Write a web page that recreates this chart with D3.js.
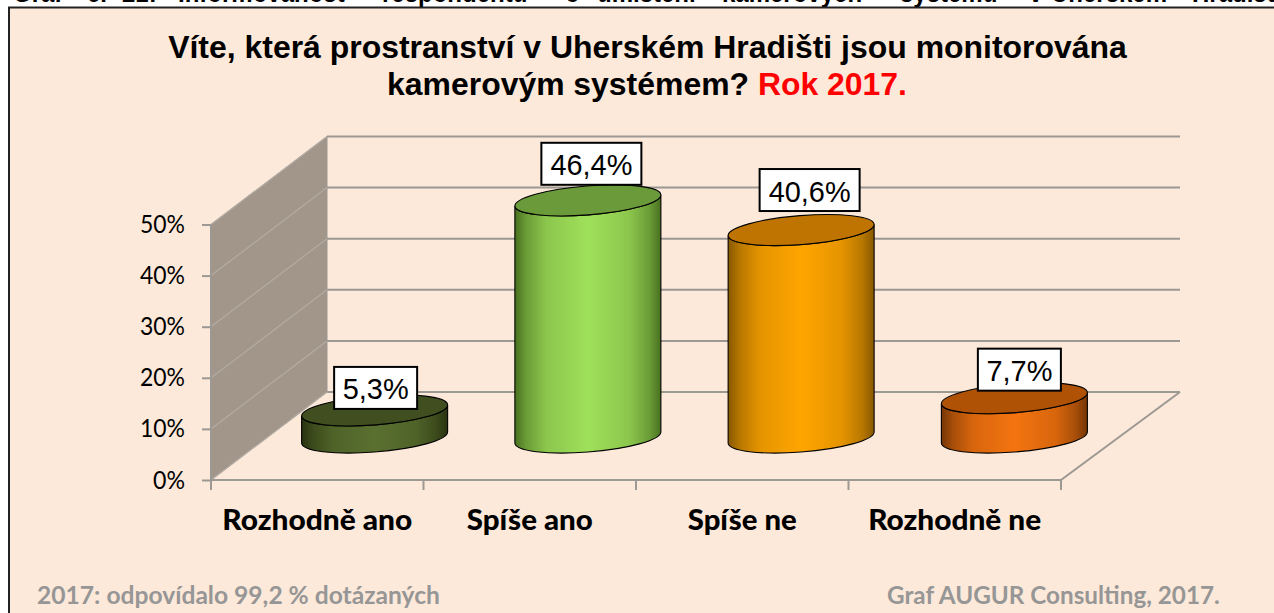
<!DOCTYPE html>
<html><head><meta charset="utf-8">
<style>html,body{margin:0;padding:0;background:#fff;overflow:hidden}svg{display:block}</style>
<script src="https://cdn.jsdelivr.net/npm/d3@7"></script></head>
<body><svg id="c" width="1274" height="613"></svg>
<script>
const categories = ["Rozhodně ano","Spíše ano","Spíše ne","Rozhodně ne"];
const values = [5.3,46.4,40.6,7.7];
const valueLabels = ["5,3%","46,4%","40,6%","7,7%"];
const yTicks = [0,10,20,30,40,50];
const headerWords = ["Graf","č.","21:","Informovanost","respondentů","o","umístění","kamerových","systémů","v","Uherském","Hradišti"];
const titleLine1 = "Víte, která prostranství v Uherském Hradišti jsou monitorována";
const titleLine2 = "kamerovým systémem? ";
const titleRed = "Rok 2017.";
const noteLeft = "2017: odpovídalo 99,2 % dotázaných";
const noteRight = "Graf AUGUR Consulting, 2017.";
const sideColors = [["#28330f","#5a7030"],["#48701f","#9fe05a"],["#875800","#ffa500"],["#743504","#f47410"]];
const topColors = ["#414f20","#6b9a3a","#bf7300","#b05206"];

const svg = d3.select("#c");
const ARIAL="'Liberation Sans',Arial,sans-serif", CAL="Lato,Carlito,Calibri,sans-serif";
const depthX=116, depthY=88;
const xs = d3.scaleBand().domain(categories).range([211,1061]);
const xc = d3.scaleBand().domain(categories).range([211,1064]); // cylinders sit on a slightly wider step
const ys = d3.scaleLinear().domain([0,50]).range([480,224.5]);
const GRID="#9c9893";

// squeeze a text horizontally so that it takes the width measured on the reference
function fit(sel, anchorX, baseY, width, anchor){
  const len = sel.node().getComputedTextLength();
  const k = width/len;
  sel.attr("text-anchor",anchor||"start").attr("transform",`translate(${anchorX},${baseY}) scale(${k},1)`);
  return sel;
}

// page frame + clipped caption above it
const headerX=[13,87,122,178,382,565,597,722,900,1029,1051,1192];
svg.selectAll("text.h").data(headerWords).join("text").attr("class","h")
  .attr("font-family",ARIAL).attr("font-weight","bold").attr("font-size",30).attr("fill","#000")
  .text(d=>d).attr("transform",(d,i)=>`translate(${headerX[i]},2) scale(.8,1)`);
svg.append("rect").attr("x",9).attr("y",7.5).attr("width",1500).attr("height",900)
  .attr("fill","#fde9d9").attr("stroke","#222").attr("stroke-width",2);

// title
const t1=svg.append("text").attr("font-family",ARIAL).attr("font-weight","bold").attr("font-size",32).attr("fill","#000").text(titleLine1);
fit(t1,647.5,58,959,"middle");
const t2=svg.append("text").attr("font-family",ARIAL).attr("font-weight","bold").attr("font-size",32).attr("fill","#000");
t2.append("tspan").text(titleLine2);
t2.append("tspan").attr("fill","#ff0000").text(titleRed);
fit(t2,647,95,520,"middle");

// 3D frame
const maxTick=yTicks[yTicks.length-1];
const left=xs.range()[0], rightEnd=xs.range()[1];
svg.append("polygon").attr("fill","#a29589").attr("stroke",GRID)
  .attr("points",[[left,ys(0)],[left,ys(maxTick)],[left+depthX,ys(maxTick)-depthY],[left+depthX,ys(0)-depthY]].join(" "));
svg.selectAll("path.grid").data(yTicks).join("path").attr("class","grid").attr("fill","none")
  .attr("stroke",GRID).attr("stroke-width",2)
  .attr("d",d=>`M${left+depthX},${ys(d)-depthY}L${rightEnd+depthX+3},${ys(d)-depthY}`);
svg.selectAll("path.wall").data(yTicks).join("path").attr("class","wall").attr("fill","none")
  .attr("stroke","#b3aca4").attr("stroke-width",1.2)
  .attr("d",d=>`M${left},${ys(d)}L${left+depthX},${ys(d)-depthY}`);
svg.append("path").attr("fill","none").attr("stroke",GRID).attr("stroke-width",2)
  .attr("d",`M${rightEnd},${ys(0)}L${rightEnd+depthX+3},${ys(0)-depthY}`);

// y axis
const ay=svg.append("g").attr("transform",`translate(${left},0)`)
  .call(d3.axisLeft(ys).tickValues(yTicks).tickSize(9).tickPadding(0).tickFormat(d=>d+"%"));
ay.selectAll("path").attr("stroke",GRID).attr("stroke-width",2).attr("d",`M0,${ys(maxTick)}V${ys(0)+10}`);
ay.selectAll("line").attr("stroke",GRID).attr("stroke-width",2);
ay.selectAll("text").each(function(d){
  const s=d3.select(this).attr("font-family",CAL).attr("font-size",25).attr("fill","#000").attr("x",null).attr("dy",null).attr("y",null);
  fit(s,-26,8,d===0?32:45,"end");
});

// x axis
const edges=categories.map(c=>xs(c)).concat([rightEnd]);
svg.append("line").attr("x1",left).attr("x2",rightEnd).attr("y1",ys(0)).attr("y2",ys(0)).attr("stroke",GRID).attr("stroke-width",2);
svg.selectAll("line.xt").data(edges).join("line").attr("class","xt").attr("x1",d=>d).attr("x2",d=>d)
  .attr("y1",ys(0)).attr("y2",ys(0)+10).attr("stroke",GRID).attr("stroke-width",2);
const catW=[190,126,109,173];
svg.selectAll("text.cat").data(categories).join("text").attr("class","cat")
  .attr("font-family",CAL).attr("font-weight","900").attr("font-size",28).attr("fill","#000").text(d=>d)
  .each(function(d,i){fit(d3.select(this),xs(d)+xs.bandwidth()/2,530,catW[i],"middle");});

// cylinders
const defs=svg.append("defs");
const gradStops=[[0,0],[.08,.4],[.22,.78],[.5,1],[.78,.78],[.92,.4],[1,0]];
sideColors.forEach((c,i)=>{
  const g=defs.append("linearGradient").attr("id","g"+i);
  const mix=d3.interpolateRgb(c[0],c[1]);
  gradStops.forEach(s=>g.append("stop").attr("offset",s[0]).attr("stop-color",mix(s[1])));
});
const A=73.2,B=14.5,ROT=-4.5,EX=73,EY=5.5;
const cx=d=>xc(d)+xc.bandwidth()/2+depthX/2-1;
const floorLift=42.5;
const baseY=ys(0)-floorLift;
const topY=v=>ys(v)-floorLift;
const cyl=svg.selectAll("g.cyl").data(categories).join("g").attr("class","cyl");
cyl.append("path").attr("fill",(d,i)=>`url(#g${i})`).attr("stroke","#000").attr("stroke-width",1.1)
  .attr("d",(d,i)=>{const c=cx(d),t=topY(values[i]);
    return `M${c-EX},${t+EY}L${c-EX},${baseY+EY}A${A},${B} ${ROT} 0 0 ${c+EX},${baseY-EY}L${c+EX},${t-EY}A${A},${B} ${ROT} 0 1 ${c-EX},${t+EY}Z`;});
cyl.append("ellipse").attr("rx",A).attr("ry",B).attr("fill",(d,i)=>topColors[i]).attr("stroke","#000").attr("stroke-width",1.1)
  .attr("transform",(d,i)=>`translate(${cx(d)},${topY(values[i])}) rotate(${ROT})`);

// value labels
const boxDx=[1,3.5,8.5,5], boxLift=[1.5,15.6,19,7.5], boxW=[83,100,100,83], txtW=[66,82,82,66];
const BH=42;
const lab=svg.selectAll("g.lab").data(categories).join("g").attr("class","lab")
  .attr("transform",(d,i)=>`translate(${cx(d)+boxDx[i]},${topY(values[i])-boxLift[i]-BH})`);
lab.append("rect").attr("x",(d,i)=>-boxW[i]/2).attr("width",(d,i)=>boxW[i]).attr("height",BH)
  .attr("fill","#fff").attr("stroke","#000").attr("stroke-width",2);
lab.append("text").attr("font-family",ARIAL).attr("font-size",30).attr("fill","#000").text((d,i)=>valueLabels[i])
  .each(function(d,i){fit(d3.select(this),0,32.5,txtW[i],"middle");});

// footnotes
const n1=svg.append("text").attr("font-family",CAL).attr("font-weight","bold").attr("font-size",24).attr("fill","#969696").text(noteLeft);
fit(n1,37,604,403);
const n2=svg.append("text").attr("font-family",CAL).attr("font-weight","bold").attr("font-size",24).attr("fill","#969696").text(noteRight);
fit(n2,887,604,333);
</script></body></html>
